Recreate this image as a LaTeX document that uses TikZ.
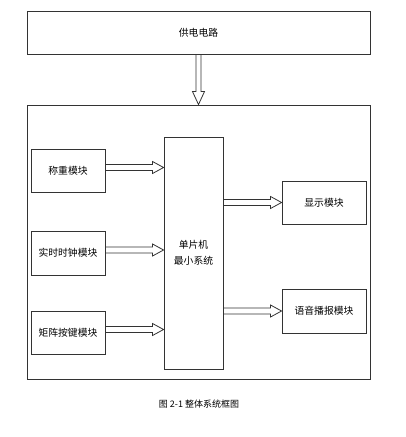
\documentclass[tikz,border=0pt]{standalone}
\usepackage{fontspec}
\setmainfont{Noto Sans CJK SC}
\usetikzlibrary{calc}

\tikzset{
  block/.style={draw=black!80, line width=0.9pt, inner sep=1pt,
    minimum width=74pt, minimum height=43pt,
    font=\fontsize{9.8}{16}\selectfont},
  hollow/.style={draw=black!80, line width=0.8pt, line join=miter},
}

% hollow arrow, left to right
\newcommand{\harrow}[2]{%
  \draw[hollow] ($(#1)+(0,-3)$) -- ($(#2)+(-11,-3)$) -- ($(#2)+(-11,-6)$)
    -- (#2) -- ($(#2)+(-11,6)$) -- ($(#2)+(-11,3)$) -- ($(#1)+(0,3)$);}
% hollow arrow, top to bottom
\newcommand{\varrow}[2]{%
  \draw[hollow] ($(#1)+(-2.5,0)$) -- ($(#2)+(-2.5,-13)$) -- ($(#2)+(-6,-13)$)
    -- (#2) -- ($(#2)+(6,-13)$) -- ($(#2)+(2.5,-13)$) -- ($(#1)+(2.5,0)$);}

\begin{document}
\begin{tikzpicture}[x=1pt, y=-1pt]
    \useasboundingbox (0,0) rectangle (405,437);

    % Power supply and system frame
    \node[block, minimum width=343pt] (power) at (198.5,32.5) {供电电路};
    \node[block, minimum width=343pt, minimum height=274pt] (frame) at (198.5,242) {};
    \varrow{power.south}{frame.north}

    % Input modules
    \node[block] (weigh) at (68,170.5) {称重模块};
    \node[block, minimum height=44pt] (clock) at (68,253) {实时时钟模块};
    \node[block] (keys) at (68,332.5) {矩阵按键模块};

    % MCU
    \node[block, minimum width=59pt, minimum height=232pt, align=center]
        (mcu) at (193.5,253) {单片机\\最小系统};

    % Output modules
    \node[block, minimum width=84pt] (disp) at (324,202.5) {显示模块};
    \node[block, minimum width=84pt, minimum height=44pt] (voice) at (324,311) {语音播报模块};

    % Arrows
    \coordinate (weighIn) at ($(mcu.west |- weigh.east)+(0,-3)$);
    \coordinate (clockIn) at ($(mcu.west |- clock.east)+(0,-3)$);
    \coordinate (keysIn)  at ($(mcu.west |- keys.east)+(0,-3)$);
    \coordinate (weighOut) at ($(weigh.east)+(0,-3)$);
    \coordinate (clockOut) at ($(clock.east)+(0,-3)$);
    \coordinate (keysOut)  at ($(keys.east)+(0,-3)$);
    \harrow{weighOut}{weighIn}
    \harrow{clockOut}{clockIn}
    \harrow{keysOut}{keysIn}
    \coordinate (dispOut) at (mcu.east |- disp.west);
    \coordinate (voiceOut) at (mcu.east |- voice.west);
    \harrow{dispOut}{disp.west}
    \harrow{voiceOut}{voice.west}

    % Caption
    \node[font=\fontsize{9}{11}\selectfont] (caption) at (199,404) {图 2-1 整体系统框图};
\end{tikzpicture}
\end{document}
